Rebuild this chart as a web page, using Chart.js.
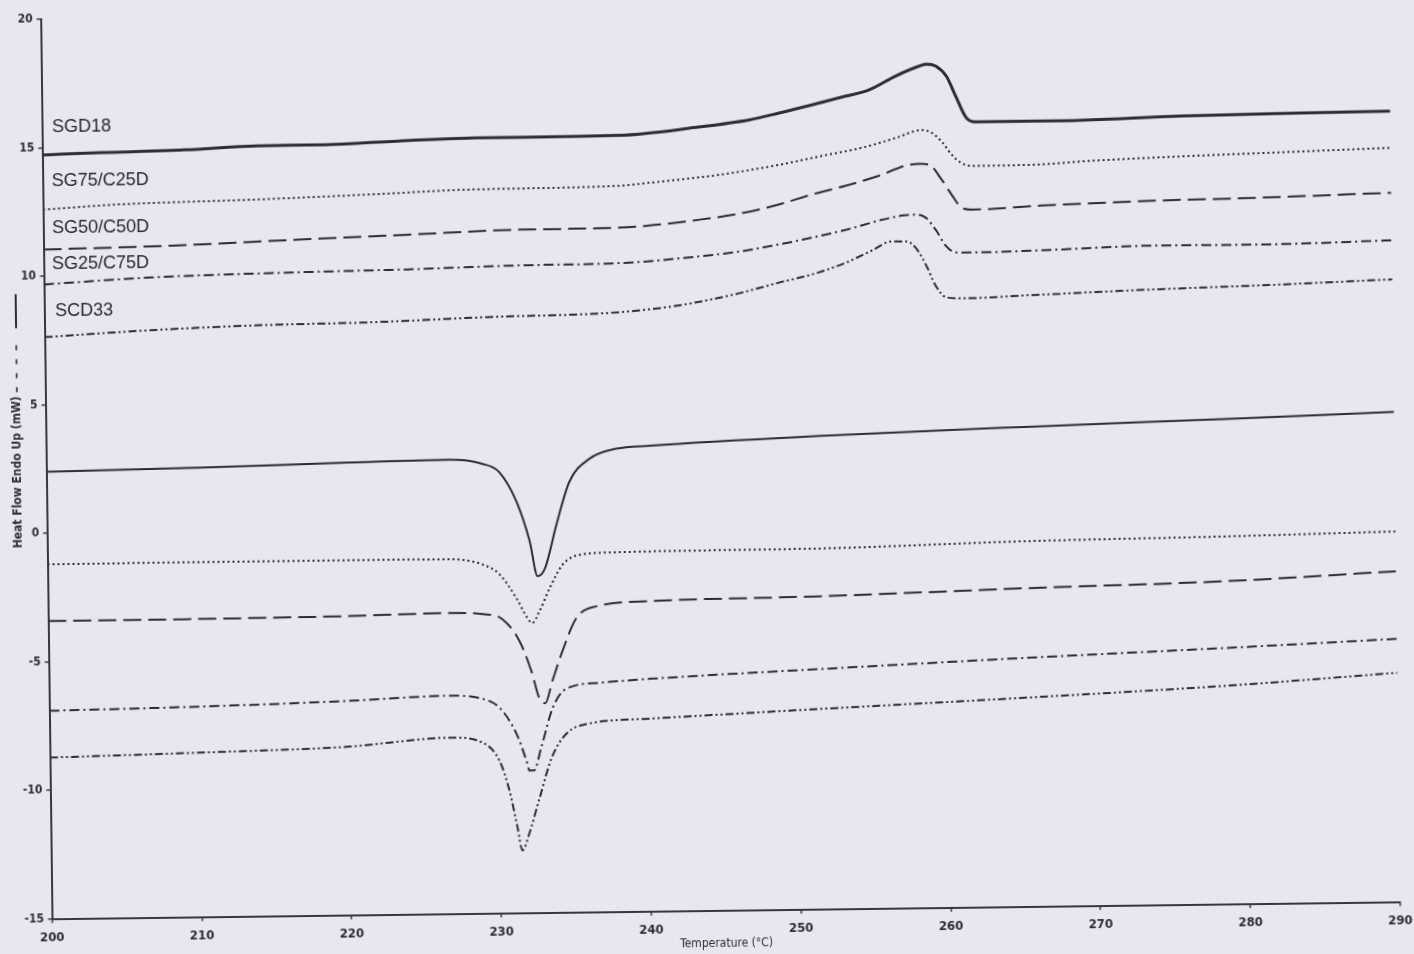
<!DOCTYPE html>
<html>
<head>
<meta charset="utf-8">
<script src="https://cdn.jsdelivr.net/npm/chart.js@4.4.1/dist/chart.umd.min.js"></script>
<style>
  html, body { margin: 0; padding: 0; background: #e6e7ef; overflow: hidden; }
  #sheet {
    position: absolute; left: 0; top: 0; width: 1414px; height: 954px;
    transform: rotate(-0.72deg); transform-origin: 707px 477px;
  }
  canvas { display: block; }
</style>
</head>
<body>
<div id="sheet"><canvas id="dsc" width="1414" height="954"></canvas></div>
<script>
// DSC thermograms: heating (melting) and cooling (crystallisation) runs, [T (°C), heat flow (mW)]
const sgd18Heat = [[200,14.73],[204,14.79],[209.5,14.86],[214.4,14.98],[218.9,14.99],[223.8,15.10],[229,15.18],[238.5,15.21],[243.9,15.50],[247.2,15.75],[249.2,16.00],[251.4,16.30],[253.7,16.63],[255.2,16.85],[257,17.38],[258.6,17.76],[259.1,17.83],[259.7,17.75],[260.4,17.35],[261,16.58],[261.7,15.72],[262.3,15.56],[267.9,15.56],[276,15.69],[284.1,15.75],[290,15.78]];
const sg75Heat = [[200,12.60],[204.7,12.76],[214.1,12.89],[222.7,13.05],[228.1,13.17],[238.5,13.25],[240.5,13.35],[245.2,13.63],[249.2,13.99],[252,14.31],[254.7,14.61],[257,14.98],[258.7,15.27],[259.4,15.15],[260.1,14.76],[260.7,14.29],[261.3,13.98],[262,13.85],[265.8,13.86],[270,13.99],[276.7,14.13],[283.4,14.24],[290,14.35]];
const sg50Heat = [[200,11.05],[208.6,11.14],[217,11.31],[224.4,11.45],[231.85,11.59],[238.45,11.62],[243.8,11.89],[246.5,12.11],[249.1,12.44],[251.3,12.81],[253.6,13.14],[255.8,13.51],[257.6,13.89],[258.5,13.96],[259.2,13.91],[260,13.33],[260.7,12.70],[261.3,12.23],[262,12.15],[266.6,12.27],[274.4,12.41],[281.1,12.47],[290,12.60]];
const sg25Heat = [[200,9.69],[207.1,9.91],[217,10.04],[224.4,10.10],[231.8,10.20],[238.4,10.24],[243.7,10.46],[246.4,10.63],[249.1,10.89],[251.3,11.14],[253.6,11.43],[255.8,11.77],[257.3,11.95],[258.3,11.98],[258.9,11.86],[259.6,11.35],[260.2,10.77],[260.9,10.49],[262.4,10.48],[266.4,10.53],[274.4,10.66],[281.1,10.65],[290,10.75]];
const scd33Heat = [[200,7.64],[207.1,7.86],[214.5,8.00],[221.9,8.06],[229.3,8.20],[238.4,8.33],[242.4,8.57],[246.4,9.01],[249.1,9.41],[251.3,9.71],[253.55,10.15],[255.3,10.61],[256.6,10.95],[257.6,10.94],[258.2,10.70],[258.9,10.00],[259.5,9.22],[260.2,8.75],[261.3,8.70],[265.7,8.79],[274.4,8.96],[281.1,9.06],[290,9.23]];

const sgd18Cool = [[200,2.40],[210.25,2.49],[220.25,2.61],[226.9,2.67],[229.1,2.50],[230.2,2.18],[231.35,1.01],[232.2,-0.54],[232.7,-1.90],[233.2,-1.60],[234.0,0.10],[234.9,1.76],[236.25,2.64],[238.05,3.02],[240.3,3.12],[251.8,3.42],[265.3,3.67],[278.8,3.88],[290,4.07]];
const sg75Cool = [[200,-1.20],[210.2,-1.19],[220.2,-1.19],[226.8,-1.20],[229,-1.41],[230.16,-1.81],[231.27,-2.75],[231.98,-3.52],[232.3,-3.72],[232.8,-3.26],[233.5,-2.37],[234.4,-1.45],[235.7,-1.07],[237.97,-1.01],[240.2,-0.99],[251.7,-0.96],[265.2,-0.78],[278.7,-0.69],[290,-0.58]];
const sg50Cool = [[200,-3.41],[210.1,-3.40],[220.1,-3.36],[226.8,-3.29],[229,-3.35],[230.3,-3.55],[231.43,-4.41],[232.2,-5.58],[232.7,-6.63],[233.1,-6.85],[233.6,-5.98],[234.3,-4.82],[235.25,-3.55],[236.6,-3.10],[240.1,-2.93],[251.7,-2.82],[265.15,-2.61],[278.7,-2.43],[290,-2.13]];
const sg25Cool = [[200,-6.90],[210.05,-6.81],[220.05,-6.66],[226.7,-6.51],[228.9,-6.64],[230.05,-7.00],[231.16,-8.02],[231.8,-9.07],[232.0,-9.46],[232.3,-9.46],[232.8,-8.57],[233.6,-7.03],[234.5,-6.30],[236.7,-6.08],[240.07,-5.95],[251.6,-5.65],[265.1,-5.32],[278.6,-5.03],[290,-4.76]];
const scd33Cool = [[200,-8.72],[210,-8.60],[220,-8.44],[226.7,-8.14],[228.9,-8.35],[230,-9.06],[230.64,-10.22],[231.15,-11.66],[231.46,-12.56],[231.94,-11.90],[232.6,-10.63],[233.5,-8.96],[234.5,-8.04],[236,-7.66],[240,-7.50],[251.6,-7.20],[265.06,-6.87],[278.6,-6.50],[290,-6.08]];

const sampleNames = ['SGD18', 'SG75/C25D', 'SG50/C50D', 'SG25/C75D', 'SCD33'];
const nameAnchors = [[200.67,15.81],[200.6,13.72],[200.58,11.86],[200.55,10.47],[200.71,8.64]];
const xTicks = [200, 210, 220, 230, 240, 250, 260, 270, 280, 290];
const yTicks = [-15, -10, -5, 0, 5, 10, 15, 20];

const heatRuns = [sgd18Heat, sg75Heat, sg50Heat, sg25Heat, scd33Heat];
const coolRuns = [sgd18Cool, sg75Cool, sg50Cool, sg25Cool, scd33Cool];
// one line style per sample: solid, dotted, dashed, dash-dot, dash-dot-dot
const dashStyles = [[], [2, 3], [18, 7], [10, 4, 2, 4], [8, 3, 2, 3, 2, 3]];

const ink = '#2f2c31';
const axisInk = '#3b3639';
const narrow = "'Liberation Sans Narrow', 'Arial Narrow', 'DejaVu Sans Condensed', sans-serif";

const toPoints = pairs => pairs.map(([x, y]) => ({ x, y }));
const datasets = [];
heatRuns.forEach((run, i) => datasets.push({
  label: sampleNames[i] + ' heating', data: toPoints(run),
  borderColor: ink, borderWidth: i === 0 ? 3 : 2, borderDash: dashStyles[i]
}));
coolRuns.forEach((run, i) => datasets.push({
  label: sampleNames[i] + ' cooling', data: toPoints(run),
  borderColor: ink, borderWidth: 2, borderDash: dashStyles[i]
}));

// sample names written next to the heating curves
const sampleLabels = {
  id: 'sampleLabels',
  afterDatasetsDraw(chart) {
    const { ctx, scales: { x, y } } = chart;
    ctx.save();
    ctx.font = "18px 'Liberation Sans', Arial, sans-serif";
    ctx.fillStyle = '#2a282c';
    ctx.textAlign = 'left';
    ctx.textBaseline = 'middle';
    sampleNames.forEach((n, i) => {
      ctx.fillText(n, x.getPixelForValue(nameAnchors[i][0]), y.getPixelForValue(nameAnchors[i][1]));
    });
    ctx.restore();
  }
};

// vertical axis caption followed by its line-style key
const yCaption = {
  id: 'yCaption',
  afterDraw(chart) {
    const { ctx, scales: { y } } = chart;
    const text = 'Heat Flow Endo Up (mW)';
    const cx = 18, cy = y.getPixelForValue(2.4);
    ctx.save();
    ctx.translate(cx, cy);
    ctx.rotate(-Math.PI / 2);
    ctx.font = 'bold 12px ' + narrow;
    ctx.fillStyle = ink;
    ctx.textAlign = 'center';
    ctx.textBaseline = 'middle';
    ctx.fillText(text, 0, 0);
    const end = ctx.measureText(text).width / 2;
    ctx.strokeStyle = ink;
    ctx.lineWidth = 1.6;
    ctx.setLineDash([5, 9]);
    ctx.beginPath(); ctx.moveTo(end + 4, 0); ctx.lineTo(end + 55, 0); ctx.stroke();
    ctx.setLineDash([]);
    ctx.lineWidth = 2;
    ctx.beginPath(); ctx.moveTo(end + 68, 0); ctx.lineTo(end + 102, 0); ctx.stroke();
    ctx.restore();
  }
};

const axisGrid = { drawOnChartArea: false, drawTicks: true, tickLength: 4, color: axisInk, lineWidth: 1.5 };
const axisBorder = { display: true, color: axisInk, width: 2 };

new Chart(document.getElementById('dsc'), {
  type: 'line',
  data: { datasets },
  options: {
    responsive: false,
    devicePixelRatio: 1,
    animation: false,
    parsing: true,
    layout: { padding: { top: 7.7, right: 17.5, left: 0, bottom: 0 } },
    elements: {
      point: { radius: 0, hoverRadius: 0 },
      line: { cubicInterpolationMode: 'monotone', fill: false, borderCapStyle: 'butt', borderJoinStyle: 'round' }
    },
    plugins: { legend: { display: false }, tooltip: { enabled: false } },
    scales: {
      x: {
        type: 'linear', min: 200, max: 290,
        afterBuildTicks: s => { s.ticks = xTicks.map(v => ({ value: v })); },
        afterFit: s => { s.height = 43.3; },
        grid: axisGrid, border: axisBorder,
        ticks: { font: { family: narrow, size: 13, weight: 'bold' }, color: ink, padding: 7, maxRotation: 0, autoSkip: false },
        title: { display: true, text: 'Temperature (°C)', color: ink, font: { family: narrow, size: 12 }, padding: { top: 0, bottom: 3 } }
      },
      y: {
        type: 'linear', min: -15, max: 20,
        afterBuildTicks: s => { s.ticks = yTicks.map(v => ({ value: v })); },
        afterFit: s => { s.width = 46.5; },
        grid: axisGrid, border: axisBorder,
        ticks: { font: { family: narrow, size: 12, weight: 'bold' }, color: ink, padding: 4, autoSkip: false }
      }
    }
  },
  plugins: [sampleLabels, yCaption]
});
</script>
</body>
</html>
